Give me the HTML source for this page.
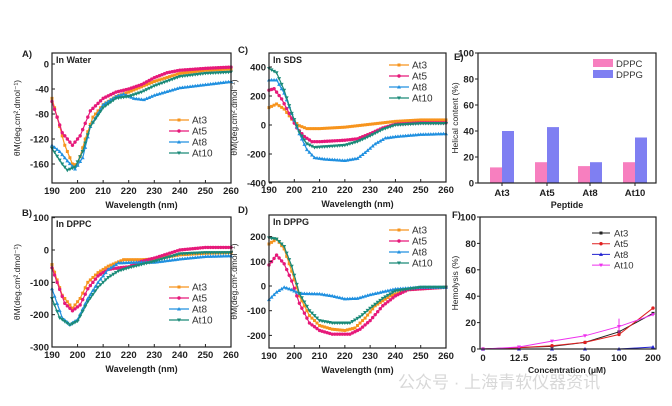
<!DOCTYPE html>
<html><head><meta charset="utf-8"><style>
html,body{margin:0;padding:0;background:#fff;}
svg{display:block;font-family:"Liberation Sans",Arial,sans-serif;}
</style></head><body>
<svg id="s" width="672" height="406" viewBox="0 0 672 406" xmlns="http://www.w3.org/2000/svg">
<text x="398" y="388" font-size="17" fill="#c8c8c8" opacity="0.7" font-family="Liberation Sans,Noto Sans CJK SC,sans-serif">公众号 · 上海青软仪器资讯</text>
</svg>
<script>
var S=document.getElementById('s'),NS='http://www.w3.org/2000/svg';
function el(t,a,txt){var e=document.createElementNS(NS,t);for(var k in a)e.setAttribute(k,a[k]);if(txt!=null)e.textContent=txt;S.appendChild(e);return e;}
var C={o:'#f7941d',p:'#e6197a',b:'#2090e0',t:'#1a8a78'};
function interp(pts,x){for(var i=0;i<pts.length-1;i++){if(x>=pts[i][0]&&x<=pts[i+1][0]){var f=(x-pts[i][0])/(pts[i+1][0]-pts[i][0]);return pts[i][1]+f*(pts[i+1][1]-pts[i][1]);}}return pts[pts.length-1][1];}
function marker(x,y,c,type){
 if(type==0)el('rect',{x:x-1.5,y:y-1.5,width:3,height:3,fill:c});
 else if(type==1)el('circle',{cx:x,cy:y,r:1.7,fill:c});
 else if(type==2)el('polygon',{points:(x)+','+(y-2)+' '+(x-2)+','+(y+1.5)+' '+(x+2)+','+(y+1.5),fill:c});
 else el('polygon',{points:(x)+','+(y+2)+' '+(x-2)+','+(y-1.5)+' '+(x+2)+','+(y-1.5),fill:c});
}
function cdPanel(o){
 var x0=o.x0,x1=o.x1,yt=o.yt,yb=o.yb;
 var X=function(w){return x0+(w-190)/70*(x1-x0);};
 var Y=function(v){return o.y0+(v-o.v0)*o.k;};
 var keys=['o','p','b','t'],types=[0,1,2,3];
 o.series.forEach(function(pts,i){
  var d='';for(var w=190;w<=260;w+=0.5){var px=X(w),py=Y(interp(pts,w));d+=(w==190?'M':'L')+px.toFixed(1)+','+py.toFixed(1);}
  el('path',{d:d,fill:'none',stroke:C[keys[i]],'stroke-width':1.2});
  for(var w=190;w<=260;w+=1)marker(X(w),Y(interp(pts,w)),C[keys[i]],types[i]);
 });
 el('rect',{x:x0,y:yt,width:x1-x0,height:yb-yt,fill:'none',stroke:'#222','stroke-width':1.2});
 for(var w=190;w<=260;w+=10){el('line',{x1:X(w),y1:yb,x2:X(w),y2:yb-3,stroke:'#222'});el('text',{x:X(w),y:yb+11,'font-size':9.5,'font-weight':'bold','text-anchor':'middle',fill:'#222'},w);}
 o.ticks.forEach(function(v){el('line',{x1:x0,y1:Y(v),x2:x0+3,y2:Y(v),stroke:'#222'});el('text',{x:x0-3,y:Y(v)+3.5,'font-size':9.5,'font-weight':'bold','text-anchor':'end',fill:'#222'},v);});
 el('text',{x:(x0+x1)/2,y:yb+25,'font-size':9,'font-weight':'bold','text-anchor':'middle',fill:'#222'},'Wavelength (nm)');
 el('text',{x:x0+4,y:yt+10,'font-size':9,'font-weight':'bold',fill:'#222'},o.title);
 el('text',{x:o.lx-34,y:o.ly-13,'font-size':9.5,'font-weight':'bold',fill:'#222'},o.letter);
 var cy=(yt+yb)/2,tx=o.x0-32;
 el('text',{x:tx,y:cy,'font-size':8.5,'text-anchor':'middle',fill:'#222',transform:'rotate(-90 '+tx+' '+cy+')'},'θM(deg.cm².dmol⁻¹)');
 ['At3','At5','At8','At10'].forEach(function(n,i){var yy=o.legy+i*11;el('line',{x1:o.legx,y1:yy,x2:o.legx+20,y2:yy,stroke:C[keys[i]],'stroke-width':1.2});marker(o.legx+10,yy,C[keys[i]],types[i]);el('text',{x:o.legx+23,y:yy+3.5,'font-size':10,fill:'#333'},n);});
}
cdPanel({x0:52,x1:231,yt:53,yb:183,y0:64,v0:0,k:-100/160,ticks:[0,-40,-80,-120,-160],title:'In Water',letter:'A)',lx:56,ly:70,legx:169,legy:120,
series:[
[[190,-55],[195,-130],[198,-160],[200,-162],[203,-120],[206,-85],[210,-65],[215,-52],[220,-45],[230,-28],[240,-15],[250,-10],[260,-8]],
[[190,-60],[194,-110],[198,-130],[201,-115],[205,-75],[210,-55],[215,-45],[220,-40],[225,-33],[230,-22],[235,-14],[240,-10],[250,-7],[260,-5]],
[[190,-130],[193,-140],[196,-155],[199,-168],[202,-150],[205,-100],[210,-65],[215,-52],[218,-48],[222,-55],[226,-57],[230,-50],[240,-38],[250,-33],[260,-28]],
[[190,-135],[194,-160],[196,-170],[199,-165],[202,-140],[205,-100],[210,-70],[215,-55],[220,-52],[225,-45],[230,-35],[240,-20],[250,-15],[260,-13]]]});
cdPanel({x0:52,x1:231,yt:217,yb:347,y0:250,v0:0,k:-97/300,ticks:[100,0,-100,-200,-300],title:'In DPPC',letter:'B)',lx:56,ly:229,legx:169,legy:287,
series:[
[[190,-45],[194,-140],[198,-180],[201,-150],[204,-100],[208,-70],[212,-50],[218,-30],[225,-30],[230,-28],[240,-15],[250,-10],[260,-8]],
[[190,-55],[192,-100],[195,-165],[198,-188],[201,-170],[204,-120],[208,-80],[212,-60],[216,-55],[220,-52],[225,-35],[230,-25],[240,0],[250,8],[260,8]],
[[190,-120],[194,-210],[197,-230],[200,-215],[204,-150],[208,-100],[212,-60],[216,-40],[222,-38],[230,-38],[240,-28],[250,-20],[260,-18]],
[[190,-150],[193,-210],[197,-232],[200,-220],[204,-160],[208,-115],[212,-85],[216,-65],[220,-55],[225,-45],[230,-35],[240,-12],[250,-8],[260,-8]]]});
cdPanel({x0:269,x1:446,yt:53,yb:182,y0:125,v0:0,k:-58/400,ticks:[400,200,0,-200,-400],title:'In SDS',letter:'C)',lx:272,ly:66,legx:389,legy:65,
series:[
[[190,120],[193,145],[196,110],[199,40],[202,-5],[205,-25],[210,-25],[220,-15],[230,5],[240,25],[250,35],[260,35]],
[[190,240],[192,250],[195,180],[198,80],[201,-20],[204,-80],[207,-115],[210,-115],[220,-105],[225,-95],[230,-60],[235,-20],[240,5],[250,15],[260,15]],
[[190,310],[193,310],[196,220],[199,80],[202,-60],[205,-170],[208,-225],[212,-235],[220,-245],[225,-230],[228,-190],[232,-130],[236,-90],[240,-80],[250,-65],[260,-60]],
[[190,390],[193,360],[196,240],[199,80],[202,-50],[205,-130],[208,-155],[212,-150],[220,-140],[225,-115],[230,-75],[235,-30],[240,0],[250,10],[260,10]]]});
cdPanel({x0:269,x1:446,yt:215,yb:348,y0:286,v0:0,k:-0.247,ticks:[200,100,0,-100,-200],title:'In DPPG',letter:'D)',lx:272,ly:226,legx:389,legy:230,
series:[
[[190,170],[193,190],[196,150],[199,60],[202,-40],[206,-120],[210,-160],[215,-175],[220,-180],[224,-170],[228,-130],[232,-80],[238,-40],[245,-15],[260,-5]],
[[190,85],[193,125],[196,90],[199,20],[202,-70],[206,-150],[210,-180],[215,-195],[222,-195],[226,-175],[230,-140],[235,-80],[240,-40],[245,-15],[260,-5]],
[[190,-55],[193,-25],[196,-5],[199,-15],[202,-30],[210,-32],[215,-40],[220,-52],[225,-50],[230,-35],[240,-12],[250,-5],[260,-5]],
[[190,195],[193,190],[196,160],[199,80],[202,-30],[206,-100],[210,-140],[215,-150],[222,-150],[226,-125],[230,-90],[235,-50],[240,-20],[250,-5],[260,-5]]]});
</script>
<script>
(function(){
 var x0=478,x1=656,yt=53,yb=183,Y=function(v){return yb-v*1.3;};
 var cats=['At3','At5','At8','At10'],cx=[502,547,590,635],pc=[12,16,13,16],pg=[40,43,16,35];
 cx.forEach(function(c,i){el('rect',{x:c-12,y:Y(pc[i]),width:12,height:yb-Y(pc[i]),fill:'#f77fbf'});el('rect',{x:c,y:Y(pg[i]),width:12,height:yb-Y(pg[i]),fill:'#7f7ff2'});
  el('line',{x1:c,y1:yb,x2:c,y2:yb+3,stroke:'#222'});el('text',{x:c,y:yb+13,'font-size':9.5,'font-weight':'bold','text-anchor':'middle',fill:'#222'},cats[i]);});
 el('rect',{x:x0,y:yt,width:x1-x0,height:yb-yt,fill:'none',stroke:'#222','stroke-width':1.2});
 [0,20,40,60,80,100].forEach(function(v){el('line',{x1:x0,y1:Y(v),x2:x0-3,y2:Y(v),stroke:'#222'});el('text',{x:x0-4,y:Y(v)+3.5,'font-size':9.5,'font-weight':'bold','text-anchor':'end',fill:'#222'},v);});
 el('text',{x:567,y:208,'font-size':9,'font-weight':'bold','text-anchor':'middle',fill:'#222'},'Peptide');
 el('text',{x:454,y:60,'font-size':9.5,'font-weight':'bold',fill:'#222'},'E)');
 el('text',{x:458,y:118,'font-size':8.5,'text-anchor':'middle',fill:'#222',transform:'rotate(-90 458 118)'},'Helical content (%)');
 el('rect',{x:593,y:59,width:20,height:8,fill:'#f77fbf'});el('text',{x:616,y:67,'font-size':9.5,fill:'#333'},'DPPC');
 el('rect',{x:593,y:70,width:20,height:8,fill:'#7f7ff2'});el('text',{x:616,y:78,'font-size':9.5,fill:'#333'},'DPPG');
})();
(function(){
 var x0=480,x1=656,yt=217,yb=349,Y=function(v){return yb-v*1.32;};
 var xs=[483,519,552,585,619,653],lab=['0','12.5','25','50','100','200'];
 var ser=[['#222',[0,1,2,5,13,27],0],['#e02020',[0,1,2.5,5,11,31],1],['#2020d0',[0,0,0,0,0,1.5],2],['#ee30ee',[0,1.5,6,10,17,26],3]];
 ser.forEach(function(s){var d='';s[1].forEach(function(v,i){d+=(i?'L':'M')+xs[i]+','+Y(v);});el('path',{d:d,fill:'none',stroke:s[0],'stroke-width':1});s[1].forEach(function(v,i){marker(xs[i],Y(v),s[0],s[2]);});});
 el('line',{x1:619,y1:Y(23),x2:619,y2:Y(12),stroke:'#ee30ee'});
 el('rect',{x:x0,y:yt,width:x1-x0,height:yb-yt,fill:'none',stroke:'#222','stroke-width':1.2});
 [0,20,40,60,80,100].forEach(function(v){el('line',{x1:x0,y1:Y(v),x2:x0-3,y2:Y(v),stroke:'#222'});el('text',{x:x0-4,y:Y(v)+3.5,'font-size':9.5,'font-weight':'bold','text-anchor':'end',fill:'#222'},v);});
 xs.forEach(function(x,i){el('text',{x:x,y:yb+12,'font-size':9.5,'font-weight':'bold','text-anchor':'middle',fill:'#222'},lab[i]);});
 el('text',{x:567,y:373,'font-size':8.5,'font-weight':'bold','text-anchor':'middle',fill:'#222'},'Concentration (μM)');
 el('text',{x:452,y:218,'font-size':9.5,'font-weight':'bold',fill:'#222'},'F)');
 el('text',{x:458,y:283,'font-size':8.5,'text-anchor':'middle',fill:'#222',transform:'rotate(-90 458 283)'},'Hemolysis (%)');
 ['At3','At5','At8','At10'].forEach(function(n,i){var yy=233+i*10.7;el('line',{x1:592,y1:yy,x2:610,y2:yy,stroke:ser[i][0]});marker(601,yy,ser[i][0],ser[i][2]);el('text',{x:614,y:yy+3.5,'font-size':9.5,fill:'#333'},n);});
})();
</script>
</body></html>
